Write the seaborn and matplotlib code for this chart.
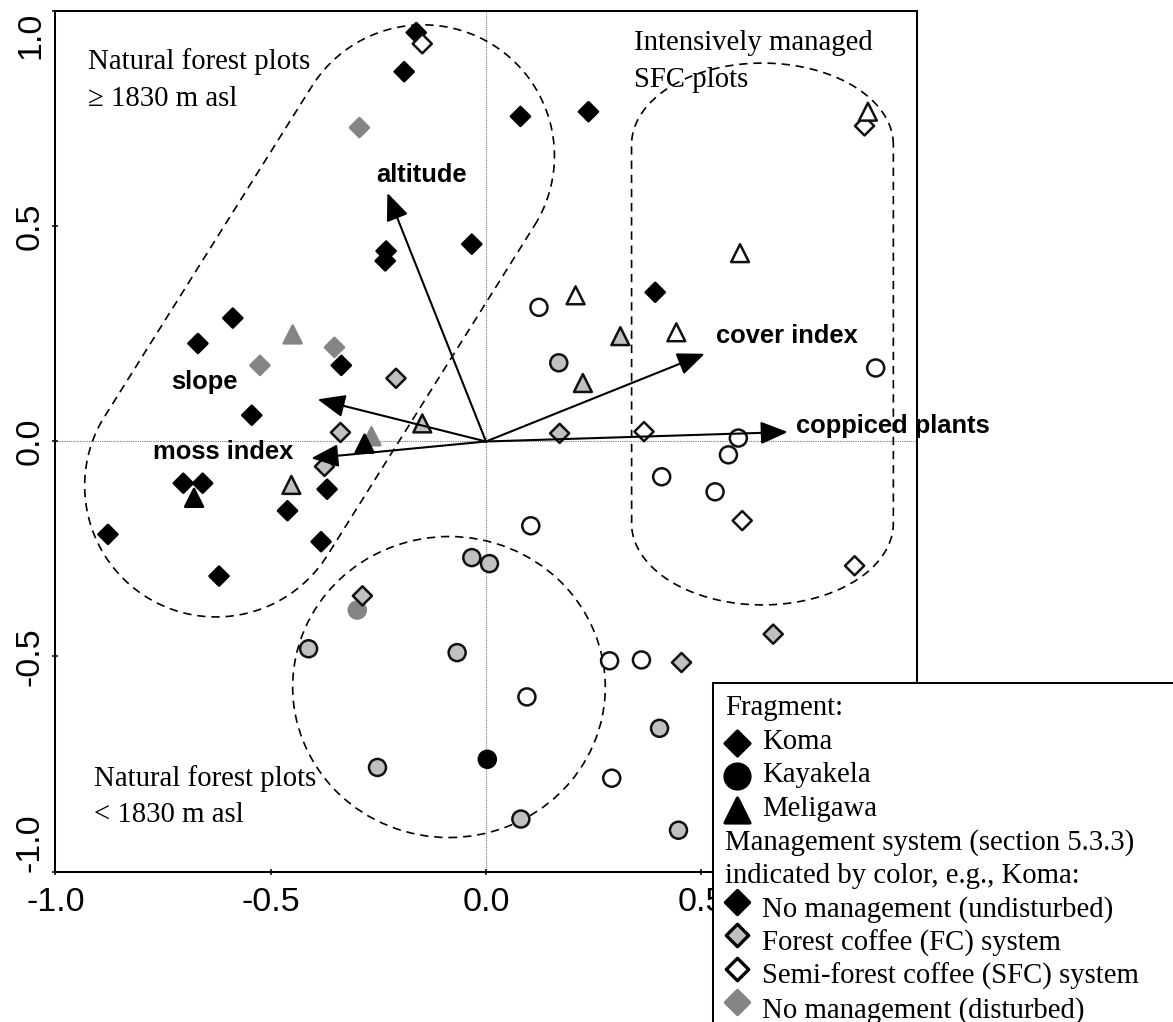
import numpy as np
import pandas as pd
import matplotlib
matplotlib.use("Agg")
import matplotlib.pyplot as plt
import seaborn as sns
from matplotlib.patches import Ellipse
from matplotlib.ticker import FormatStrFormatter

# ---------------------------
# data
# ---------------------------
# no management (undisturbed) - black
und_x = [-0.162, -0.190, -0.232, -0.234, -0.033, -0.588, -0.669, -0.336, -0.544, 0.080,
         0.238, 0.393, -0.703, -0.658, -0.369, -0.461, -0.878, -0.383, -0.620,
         -0.282, -0.678, 0.003]
und_y = [0.951, 0.860, 0.443, 0.420, 0.459, 0.287, 0.228, 0.177, 0.061, 0.756,
         0.767, 0.347, -0.097, -0.097, -0.111, -0.161, -0.216, -0.233, -0.313,
         -0.005, -0.131, -0.739]
und_frag = ["Koma"] * 19 + ["Meligawa"] * 2 + ["Kayakela"]

# no management (disturbed) - grey
dist_x = [-0.294, -0.352, -0.525, -0.449, -0.266, -0.299]
dist_y = [0.730, 0.219, 0.177, 0.249, 0.012, -0.392]
dist_frag = ["Koma"] * 3 + ["Meligawa"] * 2 + ["Kayakela"]

# forest coffee (FC) system - light grey
fc_x = [-0.209, -0.338, -0.375, 0.171, -0.287, 0.667, 0.454,
        -0.148, -0.452, 0.312, 0.225,
        0.169, -0.033, 0.008, -0.412, -0.067, -0.252, 0.403, 0.081, 0.447]
fc_y = [0.147, 0.021, -0.058, 0.019, -0.359, -0.448, -0.514,
        0.042, -0.101, 0.245, 0.136,
        0.183, -0.270, -0.284, -0.482, -0.491, -0.758, -0.667, -0.878, -0.904]
fc_frag = ["Koma"] * 7 + ["Meligawa"] * 4 + ["Kayakela"] * 9

# semi-forest coffee (SFC) system - white
sfc_x = [-0.148, 0.879, 0.367, 0.595, 0.856,
         0.887, 0.590, 0.208, 0.442,
         0.123, 0.905, 0.586, 0.563, 0.408, 0.532, 0.104, 0.287, 0.361, 0.095, 0.292]
sfc_y = [0.925, 0.734, 0.023, -0.184, -0.289,
         0.767, 0.438, 0.340, 0.254,
         0.312, 0.171, 0.008, -0.031, -0.082, -0.117, -0.196, -0.510, -0.508, -0.594, -0.783]
sfc_frag = ["Koma"] * 5 + ["Meligawa"] * 4 + ["Kayakela"] * 11

# environmental vectors
vec_names = ["altitude", "slope", "moss index", "cover index", "coppiced plants"]
vec_x = [-0.229, -0.391, -0.406, 0.508, 0.701]
vec_y = [0.578, 0.098, -0.039, 0.204, 0.022]

df = pd.concat([
    pd.DataFrame({"x": und_x, "y": und_y, "fragment": und_frag, "system": "und"}),
    pd.DataFrame({"x": dist_x, "y": dist_y, "fragment": dist_frag, "system": "dist"}),
    pd.DataFrame({"x": fc_x, "y": fc_y, "fragment": fc_frag, "system": "fc"}),
    pd.DataFrame({"x": sfc_x, "y": sfc_y, "fragment": sfc_frag, "system": "sfc"}),
], ignore_index=True)

# ---------------------------
# styles
# ---------------------------
SANS = ["Liberation Sans", "DejaVu Sans"]
SERIF = ["Liberation Serif", "DejaVu Serif"]
plt.rcParams["font.family"] = SANS
plt.rcParams["axes.unicode_minus"] = False

markers = {"Koma": "D", "Kayakela": "o", "Meligawa": "^"}
sizes = {"Koma": 95, "Kayakela": 150, "Meligawa": 165}
fills = {"dist": "#858585", "und": "black", "fc": "#c0c0c0", "sfc": "white"}
edges = {"dist": "#858585", "und": "black", "fc": "#111111", "sfc": "#111111"}

W, H = 1173, 1022
fig = plt.figure(figsize=(W / 100, H / 100), dpi=100)
ax = fig.add_axes([55.4 / W, (H - 871.5) / H, 861.2 / W, 860 / H])

# zero lines
ax.axhline(0, color="#777777", lw=0.8, ls=(0, (1, 1)), zorder=0.5)
ax.axvline(0, color="#777777", lw=0.8, ls=(0, (1, 1)), zorder=0.5)

# ---------------------------
# points
# ---------------------------
for sysname in ["dist", "und", "fc", "sfc"]:
    sub = df[df["system"] == sysname]
    sns.scatterplot(
        data=sub, x="x", y="y",
        style="fragment", markers=markers,
        size="fragment", sizes=sizes,
        color=fills[sysname], edgecolor=edges[sysname],
        linewidth=1.8, legend=False, ax=ax, zorder=3,
    )

# ---------------------------
# group outlines (dashed)
# ---------------------------
dash = (0, (5, 3.5))


def capsule(c1, c2, r, n=80):
    th = np.arctan2(c2[1] - c1[1], c2[0] - c1[0])
    t1 = np.linspace(th - np.pi / 2, th + np.pi / 2, n)
    t2 = np.linspace(th + np.pi / 2, th + 3 * np.pi / 2, n)
    xs = np.concatenate([c2[0] + r * np.cos(t1), c1[0] + r * np.cos(t2)])
    ys = np.concatenate([c2[1] + r * np.sin(t1), c1[1] + r * np.sin(t2)])
    return np.append(xs, xs[0]), np.append(ys, ys[0])


def v_stadium(cx, a, y_lo, y_hi, b, n=80):
    t1 = np.linspace(0, np.pi, n)
    t2 = np.linspace(np.pi, 2 * np.pi, n)
    xs = np.concatenate([cx + a * np.cos(t1), cx + a * np.cos(t2)])
    ys = np.concatenate([y_hi + b * np.sin(t1), y_lo + b * np.sin(t2)])
    return np.append(xs, xs[0]), np.append(ys, ys[0])


hx, hy = capsule((-0.627, -0.103), (-0.146, 0.664), 0.305)
ax.plot(hx, hy, color="black", lw=1.2, ls=dash, zorder=2)
sx, sy = v_stadium(0.642, 0.304, -0.19, 0.69, 0.19)
ax.plot(sx, sy, color="black", lw=1.2, ls=dash, zorder=2)
ax.add_patch(Ellipse((-0.086, -0.571), 2 * 0.363, 2 * 0.350, fill=False,
                     ec="black", lw=1.2, ls=dash, zorder=2))

# ---------------------------
# vectors
# ---------------------------
lab_pos = [(-0.150, 0.603, "center"), (-0.653, 0.122, "center"),
           (-0.611, -0.041, "center"), (0.535, 0.229, "left"), (0.720, 0.019, "left")]
for name, vx, vy, (lx, ly, ha) in zip(vec_names, vec_x, vec_y, lab_pos):
    ax.annotate("", xy=(vx, vy), xytext=(0, 0),
                arrowprops=dict(arrowstyle="-|>,head_length=0.6,head_width=0.25",
                                mutation_scale=28, lw=1.5, color="black",
                                shrinkA=0, shrinkB=0), zorder=4)
    ax.text(lx, ly, name, ha=ha, va="baseline", fontsize=18.4,
            fontweight="bold", family=SANS, zorder=5)

# group labels
group_lines = [
    ("Natural forest plots", -0.924, 0.866),
    ("\u2265 1830 m asl", -0.924, 0.780),
    ("Intensively managed", 0.344, 0.910),
    ("SFC plots", 0.344, 0.824),
    ("Natural forest plots", -0.910, -0.800),
    ("< 1830 m asl", -0.910, -0.884),
]
for txt, tx, ty in group_lines:
    ax.text(tx, ty, txt, ha="left", va="baseline", fontsize=20.7, family=SERIF, zorder=5)

# ---------------------------
# axes
# ---------------------------
ax.set_xlim(-1.0, 1.0)
ax.set_ylim(-1.0, 1.0)
# the 1.0 tick on x sits under the legend box
ax.set_xticks([-1.0, -0.5, 0.0, 0.5])
ax.set_yticks([-1.0, -0.5, 0.0, 0.5, 1.0])
ax.xaxis.set_major_formatter(FormatStrFormatter("%.1f"))
ax.yaxis.set_major_formatter(FormatStrFormatter("%.1f"))
ax.set_xlabel("")
ax.set_ylabel("")
for sp in ax.spines.values():
    sp.set_linewidth(1.45)
    sp.set_color("black")
ax.tick_params(direction="inout", length=5, width=1.1, labelsize=24.5, colors="black")
ax.tick_params(axis="x", pad=8.5)
ax.tick_params(axis="y", pad=4.3, labelrotation=90)
ylabs = ax.get_yticklabels()
for lab in ylabs:
    lab.set_va("center")
# end labels kept inside the axis extent, as in the original
ylabs[0].set_va("bottom")
ylabs[-1].set_va("top")

# ---------------------------
# legend box (runs off the figure edge)
# ---------------------------
lx0, ly0 = 713, 683
leg = fig.add_axes([lx0 / W, -0.05, (W - lx0) / W + 0.02, (H - ly0) / H + 0.05])
leg.set_xlim(lx0, lx0 + ((W - lx0) / W + 0.02) * W)
leg.set_ylim(ly0 + ((H - ly0) / H + 0.05) * H, ly0)
leg.set_facecolor("white")
leg.set_xticks([])
leg.set_yticks([])
for sp in leg.spines.values():
    sp.set_linewidth(1.45)
    sp.set_color("black")

legend_rows = [
    (None, "Fragment:"),
    (("D", "black", "black", 160, 6), "Koma"),
    (("o", "black", "black", 320, 6), "Kayakela"),
    (("^", "black", "black", 320, 6), "Meligawa"),
    (None, "Management system (section 5.3.3)"),
    (None, "indicated by color, e.g., Koma:"),
    (("D", "black", "black", 150, 15), "No management (undisturbed)"),
    (("D", "#c0c0c0", "black", 130, 15), "Forest coffee (FC) system"),
    (("D", "white", "black", 130, 15), "Semi-forest coffee (SFC) system"),
    (("D", "#858585", "#858585", 150, 15), "No management (disturbed)"),
]
base0, step = 715, 33.6
for i, (mk, label) in enumerate(legend_rows):
    yb = base0 + i * step
    if mk is None:
        leg.text(725, yb, label, ha="left", va="baseline", fontsize=20.7, family=SERIF)
    else:
        m, fc, ec, s, off = mk
        leg.scatter([737], [yb - off], marker=m, s=s, c=fc, edgecolors=ec,
                    linewidths=2.4, clip_on=False)
        leg.text(762, yb, label, ha="left", va="baseline", fontsize=20.7, family=SERIF)

fig.savefig("out.png", dpi=100)
